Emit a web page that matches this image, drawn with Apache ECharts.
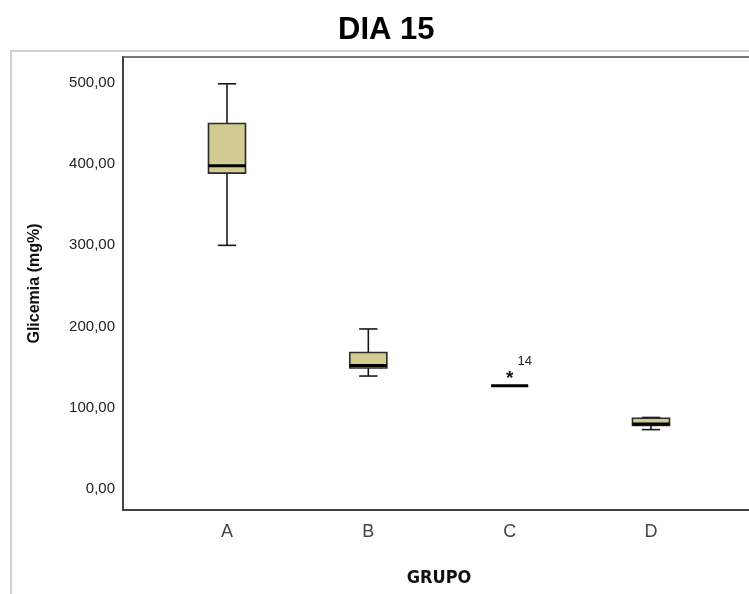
<!DOCTYPE html>
<html>
<head>
<meta charset="utf-8">
<script src="https://cdn.jsdelivr.net/npm/echarts@6/dist/echarts.min.js"></script>
<style>
  html, body { margin: 0; padding: 0; background: #fff; }
  #chart { width: 749px; height: 594px; }
</style>
</head>
<body>
<div id="chart"></div>
<script>
// Glicemia por grupo no dia 15 (boxplot)
const categories = ['A', 'B', 'C', 'D'];
const minVals    = [300, 139, 127, 73];
const q1Vals     = [389, 149, 127, 78];
const medianVals = [398, 152, 127, 80];
const q3Vals     = [450, 168, 127, 87];
const maxVals    = [499, 197, 127, 88];

// Outliers (group index, value, case label)
const outlierGroups = [2];
const outlierValues = [140];
const outlierLabels = ['14'];

const yTicks = [0, 100, 200, 300, 400, 500];
const yMin = -26, yMax = 532;

const boxData = categories.map((c, i) => [i, minVals[i], q1Vals[i], medianVals[i], q3Vals[i], maxVals[i]]);
const outlierData = outlierGroups.map((g, i) => [g, outlierValues[i], outlierLabels[i]]);

const fmt = v => v.toFixed(2).replace('.', ',');
const FONT = "'Liberation Sans', Arial, sans-serif";

function renderBox(params, api) {
  const x = api.value(0);
  const band = api.size([1, 0])[0];
  const boxW = band * 0.262;
  const capW = band * 0.13;
  const pMin = api.coord([x, api.value(1)]);
  const pQ1 = api.coord([x, api.value(2)]);
  const pMed = api.coord([x, api.value(3)]);
  const pQ3 = api.coord([x, api.value(4)]);
  const pMax = api.coord([x, api.value(5)]);
  const cx = pMed[0];
  const lineStyle = { stroke: '#1a1a1a', lineWidth: 1.6, fill: null };
  return {
    type: 'group',
    children: [
      { type: 'line', shape: { x1: cx, y1: pMax[1], x2: cx, y2: pQ3[1] }, style: lineStyle },
      { type: 'line', shape: { x1: cx, y1: pQ1[1], x2: cx, y2: pMin[1] }, style: lineStyle },
      { type: 'line', shape: { x1: cx - capW / 2, y1: pMax[1], x2: cx + capW / 2, y2: pMax[1] }, style: lineStyle },
      { type: 'line', shape: { x1: cx - capW / 2, y1: pMin[1], x2: cx + capW / 2, y2: pMin[1] }, style: lineStyle },
      { type: 'rect', shape: { x: cx - boxW / 2, y: pQ3[1], width: boxW, height: pQ1[1] - pQ3[1] },
        style: { fill: '#d2cb92', stroke: '#2a2a2a', lineWidth: 1.6 } },
      { type: 'line', shape: { x1: cx - boxW / 2, y1: pMed[1], x2: cx + boxW / 2, y2: pMed[1] },
        style: { stroke: '#000', lineWidth: 3 } }
    ]
  };
}

function renderOutlier(params, api) {
  const p = api.coord([api.value(0), api.value(1)]);
  const label = outlierData[params.dataIndex][2];
  return {
    type: 'group',
    children: [
      { type: 'text', x: p[0], y: p[1] + 4,
        style: { text: '*', fontSize: 19, fontWeight: 'bold', fontFamily: FONT, fill: '#111', align: 'center', verticalAlign: 'middle' } },
      { type: 'text', x: p[0] + 15, y: p[1] - 14,
        style: { text: label, fontSize: 13, fontFamily: FONT, fill: '#222', align: 'center', verticalAlign: 'middle' } }
    ]
  };
}

const chart = echarts.init(document.getElementById('chart'));
chart.setOption({
  animation: false,
  backgroundColor: '#fff',
  title: {
    text: 'DIA 15', left: 338, top: 15, padding: 0,
    textStyle: { fontSize: 31, fontWeight: 'bold', fontFamily: FONT, color: '#000' }
  },
  graphic: [
    { type: 'rect', shape: { x: 11, y: 51, width: 760, height: 560 },
      style: { fill: 'none', stroke: '#c4c4c4', lineWidth: 1.5 }, z: -1 }
  ],
  grid: [
    { left: 123, top: 57, width: 632, height: 453, outerBoundsMode: 'none',
      show: true, borderColor: '#777', borderWidth: 2, backgroundColor: 'transparent' },
    { left: 156.33, top: 57, width: 565.33, height: 453, outerBoundsMode: 'none' }
  ],
  xAxis: [
    {
      gridIndex: 0, type: 'value', min: 0, max: 1,
      axisLine: { show: true, onZero: false, lineStyle: { color: '#333', width: 1.5 } },
      axisTick: { show: false }, axisLabel: { show: false }, splitLine: { show: false },
      name: 'GRUPO', nameLocation: 'middle', nameGap: 59,
      nameTextStyle: { fontSize: 18, fontWeight: 'bold', color: '#111',
        fontFamily: "'Liberation Sans Narrow', 'Arial Narrow', 'DejaVu Sans Condensed', sans-serif" }
    },
    {
      gridIndex: 1, type: 'category', data: categories,
      axisLine: { show: false }, axisTick: { show: false }, splitLine: { show: false },
      axisLabel: { fontSize: 18, color: '#444', margin: 13, fontFamily: FONT }
    }
  ],
  yAxis: [
    {
      gridIndex: 0, type: 'value', min: yMin, max: yMax,
      axisLine: { show: true, onZero: false, lineStyle: { color: '#333', width: 1.5 } },
      axisTick: { show: false }, splitLine: { show: false },
      axisLabel: { customValues: yTicks, formatter: fmt, fontSize: 15, color: '#222', margin: 8, fontFamily: FONT },
      name: 'Glicemia (mg%)', nameLocation: 'middle', nameGap: 80, nameRotate: 90,
      nameTextStyle: { fontSize: 16, fontWeight: 'bold', color: '#111', fontFamily: FONT }
    },
    {
      gridIndex: 1, type: 'value', min: yMin, max: yMax, show: false
    }
  ],
  series: [
    { type: 'custom', xAxisIndex: 1, yAxisIndex: 1, data: boxData, renderItem: renderBox,
      encode: { x: 0, y: [1, 2, 3, 4, 5] } },
    { type: 'custom', xAxisIndex: 1, yAxisIndex: 1, data: outlierData, renderItem: renderOutlier,
      encode: { x: 0, y: 1 } }
  ]
});
</script>
</body>
</html>
